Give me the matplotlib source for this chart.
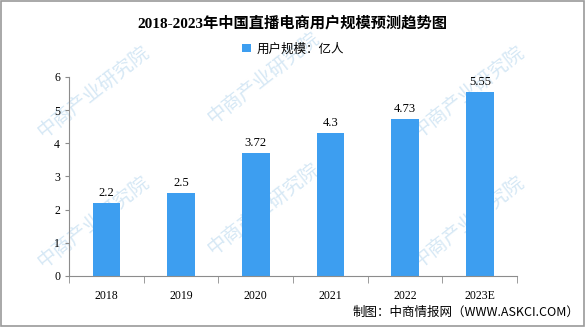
import matplotlib.pyplot as plt
from matplotlib.patches import Rectangle

plt.rcParams['font.family'] = ['Liberation Serif', 'Noto Sans CJK SC', 'DejaVu Sans']

years = ['2018', '2019', '2020', '2021', '2022', '2023E']
users = [2.2, 2.5, 3.72, 4.3, 4.73, 5.55]
value_labels = ['2.2', '2.5', '3.72', '4.3', '4.73', '5.55']

bar_color = '#3d9ef0'
axis_color = '#8c8c8c'

fig = plt.figure(figsize=(5.85, 3.27), dpi=100)
ax = fig.add_axes([0.118, 0.156, 0.766, 0.609])

# faint diagonal watermark, kept behind the axes
for wx, wy in [(0.16, 0.72), (0.45, 0.76), (0.80, 0.72), (0.16, 0.32),
               (0.45, 0.36), (0.80, 0.32)]:
    fig.text(wx, wy, '中商产业研究院', fontsize=14, color='#d6e8f5', rotation=38,
             ha='center', va='center', family='Noto Sans CJK SC', zorder=-1)

x = range(len(years))
ax.bar(x, users, width=0.37, color=bar_color, label='用户规模：亿人', zorder=2)
for xi, v, s in zip(x, users, value_labels):
    ax.text(xi, v + 0.12, s, ha='center', va='bottom', fontsize=9)

ax.set_xlim(-0.5, len(years) - 0.5)
ax.set_ylim(0, 6)
ax.set_yticks(range(7))
ax.set_xticks(x)
ax.set_xticklabels(years, fontsize=8.5)
ax.tick_params(axis='y', labelsize=8.5, length=3, color=axis_color)
ax.tick_params(axis='x', length=0, pad=10)
# category separators on the x axis
ax.set_xticks([i - 0.5 for i in range(len(years) + 1)], minor=True)
ax.tick_params(axis='x', which='minor', length=5, color=axis_color, direction='out')

for side in ['top', 'right']:
    ax.spines[side].set_visible(False)
for side in ['left', 'bottom']:
    ax.spines[side].set_color(axis_color)
ax.patch.set_alpha(0)

fig.text(0.5, 0.93, '2018-2023年中国直播电商用户规模预测趋势图', ha='center', va='center',
         fontsize=11, fontweight='bold')
ax.legend(loc='center', bbox_to_anchor=(0.5, 1.14), frameon=False,
          handlelength=0.7, handleheight=0.7, handletextpad=0.4,
          prop={'family': ['Noto Sans CJK SC'], 'size': 9})
fig.text(0.99, 0.045, '制图：中商情报网（WWW.ASKCI.COM）', ha='right', va='center',
         fontsize=9, family=['Noto Sans CJK SC'])

fig.patches.append(Rectangle((0.001, 0.003), 0.997, 0.995, transform=fig.transFigure,
                             fill=False, edgecolor='#9a9a9a', linewidth=1.2))

fig.savefig('out.png', dpi=100)
